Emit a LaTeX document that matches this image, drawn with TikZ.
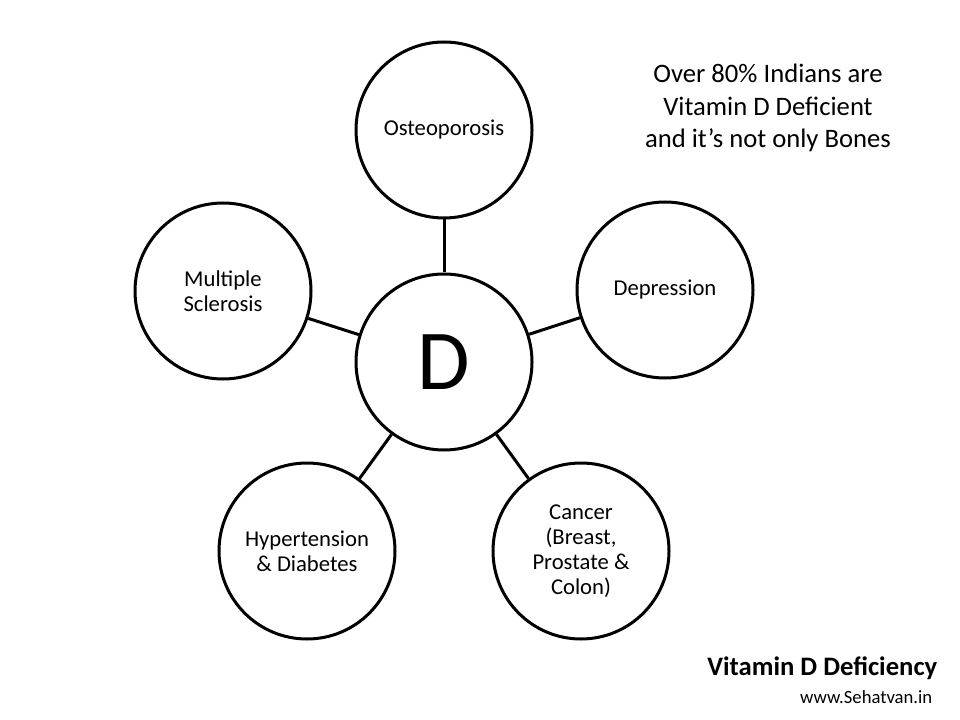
\documentclass[tikz,border=0pt]{standalone}
\usepackage{fontspec}
\setmainfont{Carlito}
\usepackage{tikz}
\usetikzlibrary{positioning}

\begin{document}
\begin{tikzpicture}[x=0.75pt, y=-0.75pt, every node/.style={font=\fontsize{17pt}{18.75pt}\selectfont}, bubble/.style={draw,circle,line width=2.25pt,fill=white,align=center,minimum size=132pt,inner sep=0pt}, link/.style={line width=2.25pt}]
\useasboundingbox[fill=white] (0,0) rectangle (960,720);
\node[bubble,font=\fontsize{64pt}{64pt}\selectfont] (vitd) at (444,362) {D};
\node[bubble] (osteo) at (444,130) {Osteoporosis};
\node[bubble] (depr) at (665,290) {Depression};
\node[bubble] (ms) at (223,291) {Multiple\\Sclerosis};
\node[bubble] (hyper) at (307,551) {Hypertension\\\& Diabetes};
\node[bubble] (cancer) at (581,551) {Cancer\\(Breast,\\Prostate \&\\Colon)};
\draw[link] (vitd)--(osteo);
\draw[link] (vitd)--(depr);
\draw[link] (vitd)--(ms);
\draw[link] (vitd)--(hyper);
\draw[link] (vitd)--(cancer);
% slide notes
\node[align=center,font=\fontsize{20pt}{24.5pt}\selectfont] (claim) at (768,108) {Over 80\% Indians are\\Vitamin D Deficient\\and it’s not only Bones};
\node[anchor=east,font=\fontsize{20pt}{24pt}\selectfont\bfseries] (title) at (942,668) {Vitamin D Deficiency};
\node[anchor=east,font=\fontsize{14pt}{16pt}\selectfont] (site) at (937,697) {www.Sehatvan.in};
\end{tikzpicture}
\end{document}
